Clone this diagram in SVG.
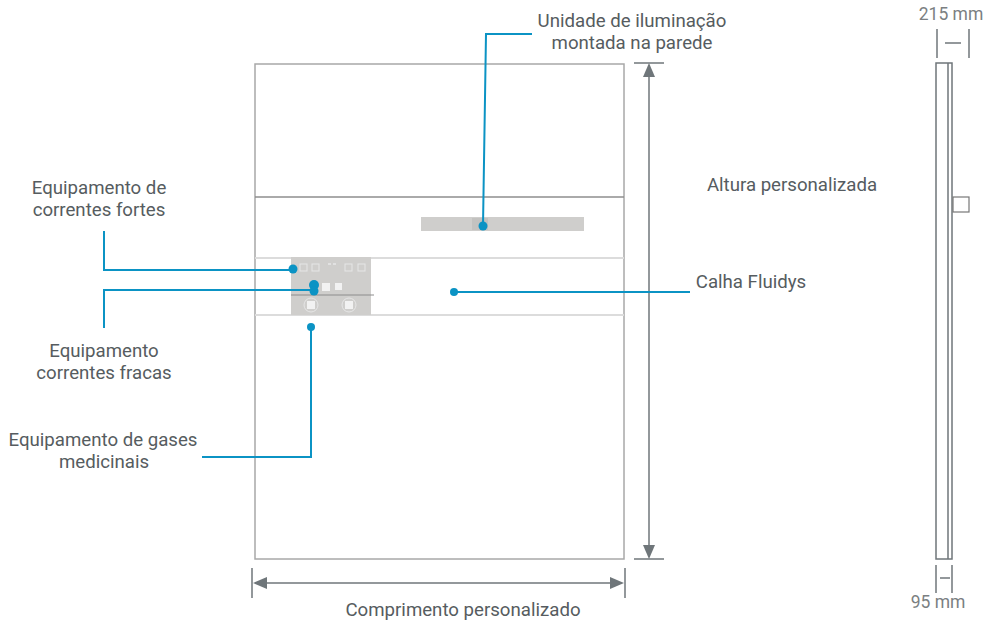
<svg xmlns="http://www.w3.org/2000/svg" width="986" height="621" viewBox="0 0 986 621">
<style>
text{font-family:"Roboto","Liberation Sans",sans-serif;font-size:18.65px;fill:#565c60;text-anchor:middle}
.g{fill:none;stroke:#a8a8a8;stroke-width:1.5}
.d{fill:none;stroke:#6f767a;stroke-width:1.5}
.a{fill:#6f767a;stroke:none}
.b{fill:none;stroke:#0b93c4;stroke-width:2}
.o{fill:#0b93c4}
.s{fill:#cfcecc}
.i{fill:none;stroke:#e6e6e6;stroke-width:1}
.w{fill:#f2f2f2}
.m{font-size:17.5px;fill:#7b7f82}
</style>
<rect width="986" height="621" fill="#fff"/>
<g id="room">
<rect class="g" x="255" y="64" width="369" height="495"/>
<line x1="255" y1="197" x2="624" y2="197" stroke="#8e8e8e" stroke-width="1.3"/>
<line x1="255" y1="258" x2="624" y2="258" stroke="#dcdcdc" stroke-width="2"/>
<line x1="255" y1="315" x2="624" y2="315" stroke="#dcdcdc" stroke-width="2"/>
</g>
<g id="panel">
<rect class="s" x="291" y="257" width="80" height="58"/>
<line x1="291" y1="295" x2="374" y2="295" stroke="#8c8c8c" stroke-width="1"/>
<rect class="i" x="300" y="264" width="7" height="7"/><rect class="i" x="312" y="264" width="7" height="7"/>
<rect class="i" x="345" y="264" width="7" height="7"/><rect class="i" x="358" y="264" width="7" height="7"/>
<line x1="328" y1="264" x2="337" y2="264" stroke="#e8e8e8" stroke-width="1.5" stroke-dasharray="3 2"/>
<rect class="w" x="322" y="283" width="8" height="8"/><rect class="w" x="335" y="283" width="7" height="7"/>
<circle class="i" cx="311" cy="305" r="7"/><rect class="w" x="307" y="301" width="8" height="8"/>
<circle class="i" cx="349" cy="305" r="7"/><rect class="w" x="345" y="301" width="8" height="8"/>
</g>
<g id="light-unit">
<rect class="s" x="421" y="217" width="163" height="14"/>
<rect x="472" y="218" width="16" height="12" fill="#c3c2c0"/>
</g>
<g id="side-view">
<rect class="d" x="936" y="63" width="16" height="496"/>
<line class="d" x1="948" y1="63" x2="948" y2="559"/>
<rect x="953" y="197" width="16" height="15" fill="#fff" stroke="#777" stroke-width="1.2"/>
</g>
<g id="dimensions">
<line class="d" x1="634" y1="63" x2="664" y2="63"/>
<line class="d" x1="634" y1="559" x2="664" y2="559"/>
<line class="d" x1="649" y1="70" x2="649" y2="550"/>
<polygon class="a" points="649,63 643,77 655,77"/>
<polygon class="a" points="649,559 643,545 655,545"/>
<line class="d" x1="252" y1="568" x2="252" y2="598"/>
<line class="d" x1="625" y1="568" x2="625" y2="598"/>
<line class="d" x1="260" y1="583" x2="617" y2="583"/>
<polygon class="a" points="253,583 267,577 267,589"/>
<polygon class="a" points="624,583 610,577 610,589"/>
<line class="d" x1="937" y1="29" x2="937" y2="58"/>
<line class="d" x1="969" y1="29" x2="969" y2="58"/>
<line class="d" x1="945" y1="43" x2="961" y2="43"/>
<line class="d" x1="936" y1="565" x2="936" y2="593"/>
<line class="d" x1="952" y1="565" x2="952" y2="593"/>
<line class="d" x1="940" y1="578" x2="950" y2="578"/>
</g>
<g id="connectors">
<polyline class="b" points="483,226 486,34 532,34"/>
<polyline class="b" points="104,231 104,270 293,270"/>
<polyline class="b" points="104,328 104,290 314,290"/>
<polyline class="b" points="202,457 311,457 311,327"/>
<polyline class="b" points="454,292 690,292"/>
<circle class="o" cx="483" cy="226" r="4.5"/>
<circle class="o" cx="293" cy="269" r="4.5"/>
<circle class="o" cx="314" cy="285" r="5"/>
<circle class="o" cx="314" cy="291" r="4.5"/>
<circle class="o" cx="311" cy="327" r="4"/>
<circle class="o" cx="454" cy="292" r="4"/>
</g>
<g id="labels">
<text x="632" y="27">Unidade de iluminação</text>
<text x="632" y="49">montada na parede</text>
<text x="99" y="194">Equipamento de</text>
<text x="99" y="216">correntes fortes</text>
<text x="104" y="357">Equipamento</text>
<text x="104" y="379">correntes fracas</text>
<text x="103" y="446">Equipamento de gases</text>
<text x="104" y="468">medicinais</text>
<text x="751" y="288">Calha Fluidys</text>
<text x="792" y="191">Altura personalizada</text>
<text x="463" y="616">Comprimento personalizado</text>
<text class="m" x="951" y="20">215 mm</text>
<text class="m" x="938" y="608">95 mm</text>
</g>
</svg>
